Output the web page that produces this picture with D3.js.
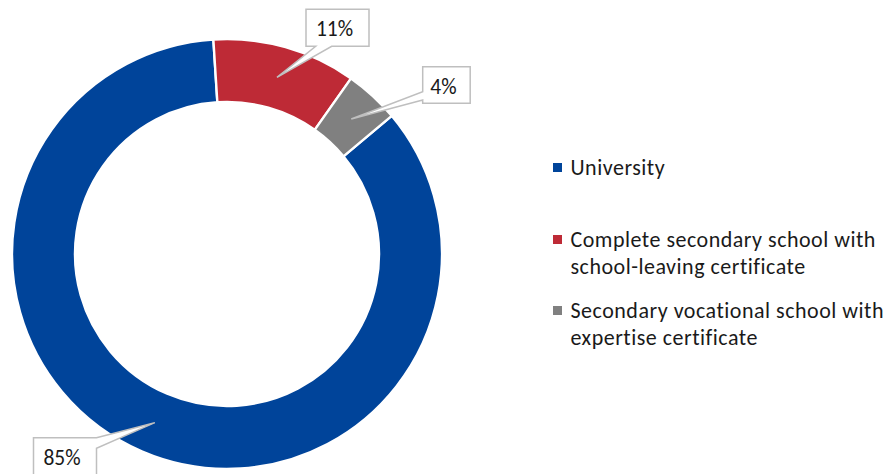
<!DOCTYPE html>
<html>
<head>
<meta charset="utf-8">
<script src="https://cdn.jsdelivr.net/npm/d3@7"></script>
<style>
  html, body { margin: 0; padding: 0; background: #fff; }
  svg { display: block; }
</style>
</head>
<body>
<svg id="chart" width="888" height="474"></svg>
<script>
const categories = [
  "University",
  "Complete secondary school with school-leaving certificate",
  "Secondary vocational school with expertise certificate"
];
const legendLines = [
  ["University"],
  ["Complete secondary school with", "school-leaving certificate"],
  ["Secondary vocational school with", "expertise certificate"]
];
const values = [85.1, 10.8, 4.1];
const colors = ["#00449A", "#BE2A36", "#808080"];

const FONT = "Carlito, Lato, sans-serif";
const svg = d3.select("#chart");
const cx = 227, cy = 254;
const rOuter = 215, rInner = 152;

const pie = d3.pie().sort(null).value(d => d)
  .startAngle(50 * Math.PI / 180)
  .endAngle(50 * Math.PI / 180 + 2 * Math.PI);
const arcs = pie(values);
const arc = d3.arc().innerRadius(rInner).outerRadius(rOuter);
const mid = d3.arc().innerRadius(183.5).outerRadius(183.5);

const g = svg.append("g").attr("transform", `translate(${cx},${cy})`);
g.selectAll("path.slice").data(arcs).join("path")
  .attr("class", "slice")
  .attr("d", arc)
  .attr("fill", (d, i) => colors[i])
  .attr("stroke", "#fff")
  .attr("stroke-width", 2.4);

const pct = d3.format(".0%");
const total = d3.sum(values);

// callout boxes (layout)
const boxes = [
  { x: 33.5, y: 437.7, w: 63, h: 37, side: "right", a: 0, b: 10.5 },
  { x: 306, y: 9.3, w: 63, h: 37, side: "bottom", a: 9.7, b: 25.7 },
  { x: 422.7, y: 66.7, w: 47.5, h: 36.6, side: "left", a: 25, b: 33.3 }
];

function callout(bx, tx, ty) {
  const { x, y, w, h, side, a, b } = bx;
  if (side === "bottom")
    return `M${x},${y}H${x+w}V${y+h}H${x+b}L${tx},${ty}L${x+a},${y+h}H${x}Z`;
  if (side === "left")
    return `M${x},${y}H${x+w}V${y+h}H${x}V${y+b}L${tx},${ty}L${x},${y+a}Z`;
  if (side === "right")
    return `M${x},${y}H${x+w}V${y+a}L${tx},${ty}L${x+w},${y+b}V${y+h}H${x}Z`;
  return `M${x},${y}H${x+w}V${y+h}H${x}Z`;
}

const lab = svg.append("g");
arcs.forEach((d, i) => {
  const [mx, my] = mid.centroid(d);
  const tx = cx + mx, ty = cy + my;
  const bx = boxes[i];
  lab.append("path")
    .attr("d", callout(bx, tx, ty))
    .attr("fill", "#fff")
    .attr("stroke", "#BFBFBF")
    .attr("stroke-width", 1.5)
    .attr("stroke-linejoin", "miter");
  lab.append("text")
    .attr("x", bx.x + bx.w / 2 - 3)
    .attr("y", bx.y + 27)
    .attr("text-anchor", "middle")
    .attr("font-family", FONT)
    .attr("font-size", 21.5)
    .attr("fill", "#1a1a1a")
    .text(pct(d.data / total));
});

// legend
const legendY = [175, 247, 318];
const leg = svg.append("g");
legendLines.forEach((lines, i) => {
  leg.append("rect")
    .attr("x", 553).attr("y", legendY[i] - 12)
    .attr("width", 9).attr("height", 9)
    .attr("fill", colors[i]);
  const t = leg.append("text")
    .attr("x", 570.5).attr("y", legendY[i])
    .attr("font-family", FONT)
    .attr("font-size", 22)
    .attr("letter-spacing", 0.5)
    .attr("fill", "#1a1a1a");
  lines.forEach((l, j) => {
    t.append("tspan").attr("x", 570.5).attr("dy", j === 0 ? 0 : 26.5).text(l);
  });
});
</script>
</body>
</html>
